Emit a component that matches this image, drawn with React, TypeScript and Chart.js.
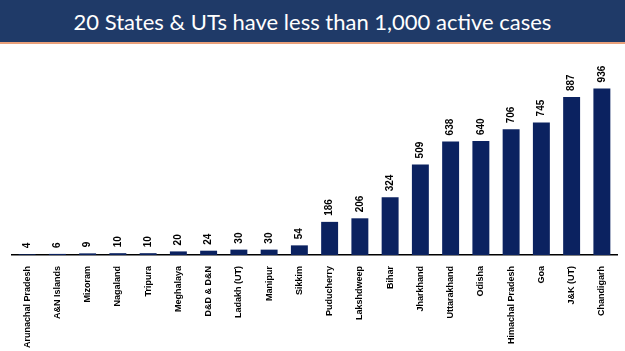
import React, { useEffect, useRef } from "react";
import { Chart, registerables } from "chart.js";

Chart.register(...registerables);

const TITLE = "20 States & UTs have less than 1,000 active cases";

const categories = [
  "Arunachal Pradesh",
  "A&N Islands",
  "Mizoram",
  "Nagaland",
  "Tripura",
  "Meghalaya",
  "D&D & D&N",
  "Ladakh (UT)",
  "Manipur",
  "Sikkim",
  "Puducherry",
  "Lakshdweep",
  "Bihar",
  "Jharkhand",
  "Uttarakhand",
  "Odisha",
  "Himachal Pradesh",
  "Goa",
  "J&K (UT)",
  "Chandigarh",
];

const activeCases = [4, 6, 9, 10, 10, 20, 24, 30, 30, 54, 186, 206, 324, 509, 638, 640, 706, 745, 887, 936];

const valueLabelPlugin = {
  id: "valueLabels",
  afterDatasetsDraw(chart: any) {
    const ctx = chart.ctx;
    const meta = chart.getDatasetMeta(0);
    const data = chart.data.datasets[0].data;
    ctx.save();
    ctx.fillStyle = "#000000";
    ctx.font = "bold 10px 'Liberation Sans', Arial, sans-serif";
    ctx.textAlign = "left";
    ctx.textBaseline = "middle";
    meta.data.forEach((bar: any, i: number) => {
      ctx.save();
      ctx.translate(bar.x, bar.y - 6);
      ctx.rotate(-Math.PI / 2);
      ctx.fillText(String(data[i]), 0, 0);
      ctx.restore();
    });
    ctx.restore();
  },
};

export default function App() {
  const canvasRef = useRef<HTMLCanvasElement | null>(null);

  useEffect(() => {
    if (!canvasRef.current) return;
    const chart = new Chart(canvasRef.current, {
      type: "bar",
      data: {
        labels: categories,
        datasets: [
          {
            data: activeCases,
            backgroundColor: "#0b2260",
            borderWidth: 0,
            barPercentage: 0.56,
            categoryPercentage: 1,
          },
        ],
      },
      options: {
        animation: false,
        responsive: false,
        maintainAspectRatio: false,
        layout: { padding: { left: 12, right: 8, top: 33, bottom: 0 } },
        plugins: {
          legend: { display: false },
          tooltip: { enabled: false },
          title: { display: false },
        },
        scales: {
          x: {
            grid: { display: false },
            border: { display: true, color: "#000000", width: 1.5 },
            ticks: {
              minRotation: 90,
              maxRotation: 90,
              autoSkip: false,
              padding: 3,
              color: "#000000",
              font: { family: "'Liberation Sans', Arial, sans-serif", size: 9, weight: "bold" },
            },
          },
          y: {
            display: false,
            min: 0,
            max: 1000,
          },
        },
      },
      plugins: [valueLabelPlugin],
    });
    return () => chart.destroy();
  }, []);

  return (
    <div
      style={{
        position: "absolute",
        left: 0,
        top: 0,
        width: 625,
        height: 351,
        background: "#ffffff",
        overflow: "hidden",
      }}
    >
      <div
        style={{
          height: 42,
          background: "#1f3a68",
          color: "#ffffff",
          fontFamily: "'Lato', 'Open Sans', sans-serif",
          fontSize: 22,
          display: "flex",
          alignItems: "center",
          justifyContent: "center",
        }}
      >
        {TITLE}
      </div>
      <div style={{ height: 2, background: "#e9a07a" }} />
      <canvas ref={canvasRef} width={625} height={307} style={{ display: "block" }} />
    </div>
  );
}
